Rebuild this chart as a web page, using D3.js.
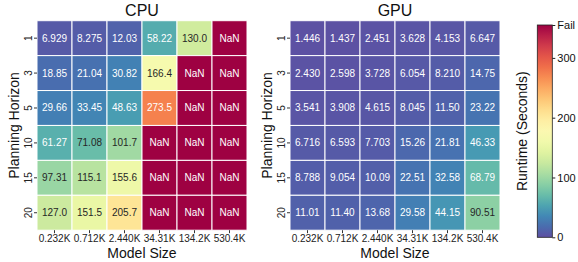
<!DOCTYPE html>
<html lang="en">
<head>
<meta charset="UTF-8">
<title>Runtime heatmaps</title>
<style>
  body { margin: 0; background: #fff; }
  text { font-family: "Liberation Sans", Arial, sans-serif; }
</style>
</head>
<body>
<script src="https://d3js.org/d3.v7.min.js"></script>
<script>
var modelSizes = ['0.232K', '0.712K', '2.440K', '34.31K', '134.2K', '530.4K'];
var horizons = ['1', '3', '5', '10', '15', '20'];

// NaN = run failed
var cpuValues = [
    [6.929, 8.275, 12.03, 58.22, 130.0, NaN],
    [18.85, 21.04, 30.82, 166.4, NaN, NaN],
    [29.66, 33.45, 48.63, 273.5, NaN, NaN],
    [61.27, 71.08, 101.7, NaN, NaN, NaN],
    [97.31, 115.1, 155.6, NaN, NaN, NaN],
    [127.0, 151.5, 205.7, NaN, NaN, NaN]
];
var gpuValues = [
    [1.446, 1.437, 2.451, 3.628, 4.153, 6.647],
    [2.430, 2.598, 3.728, 6.054, 8.210, 14.75],
    [3.541, 3.908, 4.615, 8.045, 11.50, 23.22],
    [6.716, 6.593, 7.703, 15.26, 21.81, 46.33],
    [8.788, 9.054, 10.09, 22.51, 32.58, 68.79],
    [11.01, 11.40, 13.68, 29.58, 44.15, 90.51]
];
var cbarTicks = [0, 100, 200, 300];
var vmax = 355;

var W = 578, H = 262;
var svg = d3.select('body').append('svg').attr('width', W).attr('height', H);

var color = function (v) {
    if (isNaN(v)) return d3.interpolateSpectral(0);
    return d3.interpolateSpectral(1 - Math.min(v, vmax) / vmax);
};
function textColor(c) {
    var rgb = d3.rgb(c);
    var lin = [rgb.r, rgb.g, rgb.b].map(function (x) {
        x = x / 255;
        return x <= 0.03928 ? x / 12.92 : Math.pow((x + 0.055) / 1.055, 2.4);
    });
    var L = 0.2126 * lin[0] + 0.7152 * lin[1] + 0.0722 * lin[2];
    return L > 0.408 ? '#262626' : '#fff';
}

function heatmap(title, values, left) {
    var top = 20.7, size = 210, hgt = 209.5;
    var x = d3.scaleBand().domain(modelSizes).range([left, left + size]);
    var y = d3.scaleBand().domain(horizons).range([top, top + hgt]);
    var g = svg.append('g');

    var cells = [];
    values.forEach(function (row, i) {
        row.forEach(function (v, j) {
            cells.push({ h: horizons[i], m: modelSizes[j], v: v });
        });
    });

    g.selectAll('rect').data(cells).enter().append('rect')
        .attr('x', function (d) { return x(d.m); })
        .attr('y', function (d) { return y(d.h); })
        .attr('width', x.bandwidth())
        .attr('height', y.bandwidth())
        .attr('fill', function (d) { return color(d.v); })
        .attr('stroke', '#fff')
        .attr('stroke-width', 1);

    g.selectAll('text.val').data(cells).enter().append('text')
        .attr('class', 'val')
        .attr('x', function (d) { return x(d.m) + x.bandwidth() / 2; })
        .attr('y', function (d) { return y(d.h) + y.bandwidth() / 2; })
        .attr('dy', '0.35em')
        .attr('text-anchor', 'middle')
        .attr('font-size', 10)
        .attr('fill', function (d) { return textColor(color(d.v)); })
        .text(function (d) { return isNaN(d.v) ? 'NaN' : d.v.toFixed(d.v >= 100 ? 1 : (d.v >= 10 ? 2 : 3)); });

    // x ticks
    var xa = g.append('g').attr('transform', 'translate(0,' + (top + hgt) + ')')
        .call(d3.axisBottom(x).tickSize(3).tickPadding(2));
    xa.select('.domain').remove();
    xa.selectAll('line').attr('stroke', '#333');
    xa.selectAll('text').attr('font-size', 10).attr('fill', '#222');

    // y ticks (rotated labels)
    var ya = g.append('g').attr('transform', 'translate(' + left + ',0)')
        .call(d3.axisLeft(y).tickSize(3).tickPadding(2));
    ya.select('.domain').remove();
    ya.selectAll('line').attr('stroke', '#333');
    ya.selectAll('text').attr('font-size', 10).attr('fill', '#222')
        .attr('text-anchor', 'middle').attr('x', 0).attr('dy', 0)
        .attr('transform', 'translate(-5,0) rotate(-90)');

    g.append('text').attr('x', left + size / 2).attr('y', 16)
        .attr('text-anchor', 'middle').attr('font-size', 16).attr('fill', '#111').text(title);
    g.append('text').attr('x', left + size / 2).attr('y', 258)
        .attr('text-anchor', 'middle').attr('font-size', 14).attr('fill', '#111').text('Model Size');
    g.append('text')
        .attr('transform', 'translate(' + (left - 18) + ',' + (top + hgt / 2) + ') rotate(-90)')
        .attr('text-anchor', 'middle').attr('font-size', 14).attr('fill', '#111').text('Planning Horizon');
}

heatmap('CPU', cpuValues, 37);
heatmap('GPU', gpuValues, 290);

// colorbar
var cbX = 537.3, cbW = 15, cbTop = 25, cbBot = 237.3;
var cy = d3.scaleLinear().domain([0, vmax]).range([cbBot, cbTop]);
var defs = svg.append('defs');
var grad = defs.append('linearGradient').attr('id', 'cbgrad')
    .attr('x1', 0).attr('y1', 1).attr('x2', 0).attr('y2', 0);
d3.range(0, 1.0001, 0.05).forEach(function (t) {
    grad.append('stop').attr('offset', t).attr('stop-color', color(t * vmax));
});
svg.append('rect').attr('x', cbX).attr('y', cbTop).attr('width', cbW).attr('height', cbBot - cbTop)
    .attr('fill', 'url(#cbgrad)').attr('stroke', '#222').attr('stroke-width', 0.8);
var ca = svg.append('g').attr('transform', 'translate(' + (cbX + cbW) + ',0)')
    .call(d3.axisRight(cy).tickValues(cbarTicks.concat([vmax]))
        .tickFormat(function (d) { return d === vmax ? 'Fail' : d; }).tickSize(3).tickPadding(2));
ca.select('.domain').remove();
ca.selectAll('line').attr('stroke', '#222');
ca.selectAll('text').attr('font-size', 11).attr('fill', '#111');
svg.append('text')
    .attr('transform', 'translate(527,' + ((cbTop + cbBot) / 2) + ') rotate(-90)')
    .attr('text-anchor', 'middle').attr('font-size', 14).attr('fill', '#111').text('Runtime (Seconds)');
</script>
</body>
</html>
